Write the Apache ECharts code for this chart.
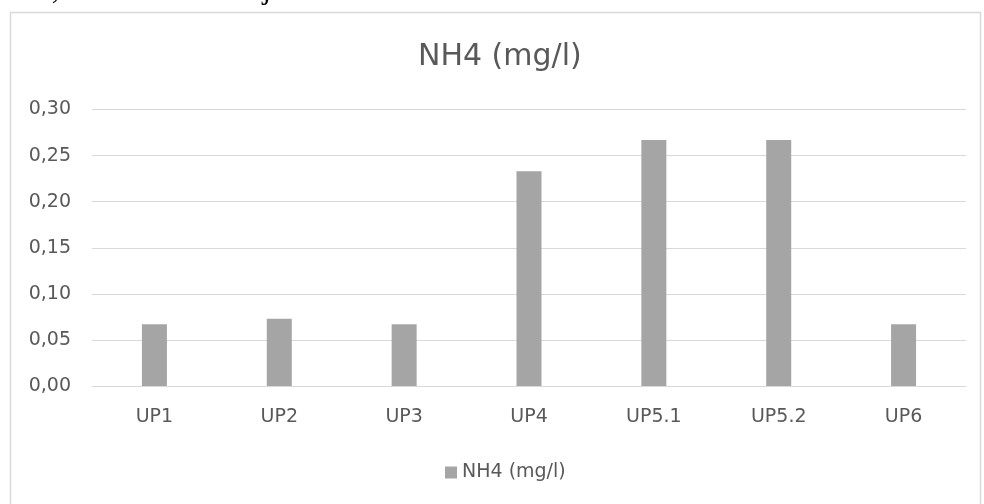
<!DOCTYPE html>
<html>
<head>
<meta charset="utf-8">
<script src="https://cdn.jsdelivr.net/npm/echarts@6/dist/echarts.min.js"></script>
<style>
html,body{margin:0;padding:0;background:#fff;}
#c{width:984px;height:504px;}
</style>
</head>
<body>
<div id="c"></div>
<script>
const categories = ['UP1', 'UP2', 'UP3', 'UP4', 'UP5.1', 'UP5.2', 'UP6'];
const nh4Values = [0.067, 0.073, 0.067, 0.233, 0.267, 0.267, 0.067];
const seriesName = 'NH4 (mg/l)';
const chartTitle = 'NH4 (mg/l)';
const headerText = 'sivo, na Ilha de Marajó-Cachoeira do Arari.';

const chart = echarts.init(document.getElementById('c'), null, {renderer: 'canvas'});
const fontFam = '"DejaVu Sans", "Open Sans", sans-serif';
chart.setOption({
  animation: false,
  backgroundColor: '#ffffff',
  title: {
    text: chartTitle,
    left: 413,
    top: 37,
    textStyle: {fontFamily: fontFam, fontSize: 30, fontWeight: 'normal', color: '#595959'}
  },
  legend: {
    data: [seriesName],
    top: 463,
    left: 445,
    padding: 0,
    itemWidth: 12,
    itemHeight: 12,
    itemGap: 6,
    icon: 'rect',
    textStyle: {fontFamily: fontFam, fontSize: 19, color: '#595959'}
  },
  grid: {left: 92, right: 18, top: 109.5, bottom: 118, containLabel: false},
  xAxis: {
    type: 'category',
    data: categories,
    axisLine: {show: true, lineStyle: {color: '#d9d9d9', width: 1}},
    axisTick: {show: false},
    axisLabel: {fontFamily: fontFam, fontSize: 19, color: '#595959', margin: 22}
  },
  yAxis: {
    type: 'value',
    min: 0,
    max: 0.30,
    interval: 0.05,
    axisLine: {show: false},
    axisTick: {show: false},
    splitLine: {lineStyle: {color: '#d9d9d9', width: 1}},
    axisLabel: {
      fontFamily: fontFam, fontSize: 19, color: '#595959', margin: 21,
      formatter: v => v.toFixed(2).replace('.', ',')
    }
  },
  series: [{
    name: seriesName,
    type: 'bar',
    data: nh4Values,
    barWidth: 25,
    itemStyle: {color: '#a5a5a5'}
  }],
  graphic: [
    {
      type: 'rect',
      shape: {x: 10.5, y: 12.5, width: 970, height: 500},
      style: {fill: 'none', stroke: '#d9d9d9', lineWidth: 1.5},
      silent: true
    },
    {
      type: 'text',
      left: 0,
      top: -26,
      style: {
        text: headerText,
        fontFamily: '"Liberation Serif", "DejaVu Serif", serif',
        fontSize: 31,
        fill: '#000000'
      },
      silent: true
    }
  ]
});
</script>
</body>
</html>
